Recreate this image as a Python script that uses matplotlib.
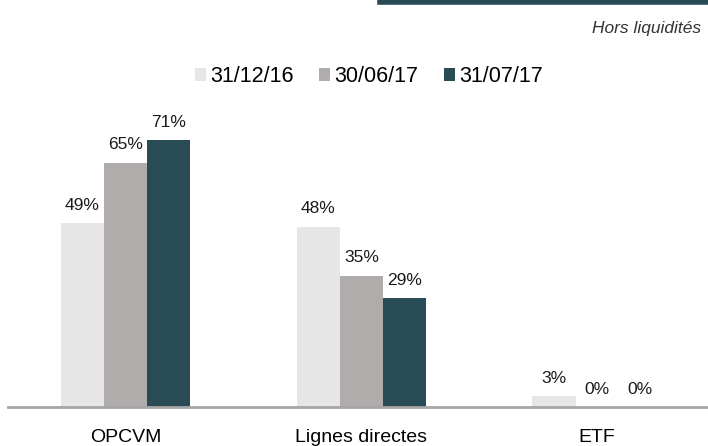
import matplotlib.pyplot as plt
import numpy as np

plt.rcParams['font.family'] = ['Liberation Sans', 'DejaVu Sans']

# data
categories = ["OPCVM", "Lignes directes", "ETF"]
dates = ["31/12/16", "30/06/17", "31/07/17"]
values_dec16 = [49, 48, 3]
values_jun17 = [65, 35, 0]
values_jul17 = [71, 29, 0]
colors = ["#e6e6e6", "#b0acab", "#284b55"]

fig = plt.figure(figsize=(7.08, 4.46), dpi=100)
ax = fig.add_axes([0.011, 0.087, 0.989, 0.72])

x = np.arange(len(categories))
width = 0.183
series = [values_dec16, values_jun17, values_jul17]
for i, (vals, label, col) in enumerate(zip(series, dates, colors)):
    pos = x + (i - 1) * width
    bars = ax.bar(pos, vals, width, color=col, label=label)
    for b, v in zip(bars, vals):
        ax.annotate(f"{v}%", (b.get_x() + b.get_width() / 2, v),
                    xytext=(0, 7.5), textcoords="offset points",
                    ha="center", va="bottom", fontsize=12.5, color="#1a1a1a")

ax.set_xlim(-0.5, 2.47)
ax.set_ylim(0, 85.4)
ax.set_yticks([])
ax.set_xticks(x)
ax.set_xticklabels(categories, fontsize=14)
ax.tick_params(axis="x", length=0, pad=16)
for s in ["top", "right", "left"]:
    ax.spines[s].set_visible(False)
ax.spines["bottom"].set_color("#a6a6a6")
ax.spines["bottom"].set_linewidth(2)

leg = fig.legend(loc="center", bbox_to_anchor=(0.521, 0.828), ncol=3, frameon=False,
                 fontsize=15.5, handlelength=0.5, handleheight=0.5,
                 handletextpad=0.2, columnspacing=1.2)

# top rule and note
fig.add_artist(plt.Line2D([0.537, 1.0], [0.996, 0.996], color="#284b55", lw=4,
                          transform=fig.transFigure))
fig.text(0.99, 0.935, "Hors liquidités", ha="right", va="center",
         fontsize=12.5, style="italic", color="#333333")

fig.savefig("out.png", dpi=100)
